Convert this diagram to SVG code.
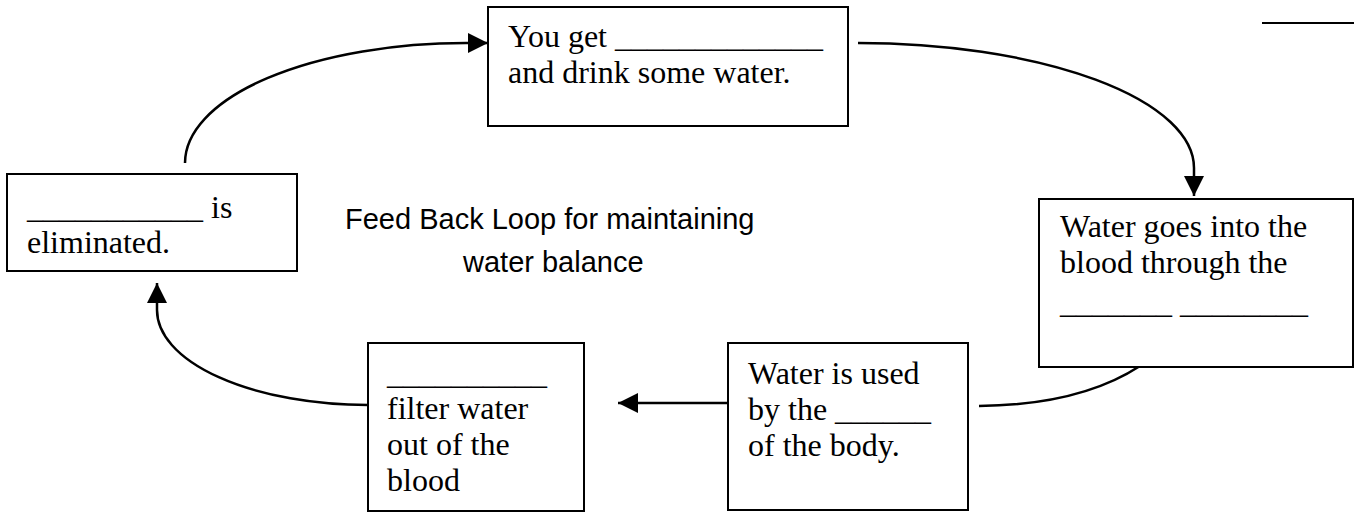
<svg xmlns="http://www.w3.org/2000/svg" width="1354" height="512" viewBox="0 0 1354 512">
<style>
.box{fill:#fff;stroke:#000;stroke-width:2}
.t{font-family:"Liberation Serif","Times New Roman",serif;font-size:32px;fill:#000}
.title{font-family:"Liberation Sans",Arial,sans-serif;font-size:29px;fill:#000}
.conn{fill:none;stroke:#000;stroke-width:2.5}
</style>
<defs>
<marker id="ah" viewBox="0 0 10 10" refX="10" refY="5" markerUnits="userSpaceOnUse" markerWidth="26" markerHeight="20" orient="auto">
<path d="M0,0 L10,5 L0,10 z" fill="#000"/>
</marker>
</defs>
<rect width="1354" height="512" fill="#fff"/>
<g id="connectors">
<path class="conn" d="M185,163 A281,120 0 0 1 466,43 L488,43" marker-end="url(#ah)"/>
<path class="conn" d="M858,43 A336,125 0 0 1 1194,168 L1194,196" marker-end="url(#ah)"/>
<path class="conn" d="M979,406 Q1080,405 1140,366"/>
<path class="conn" d="M728,403 L618,403" marker-end="url(#ah)"/>
<path class="conn" d="M368,405 A211,95 0 0 1 157,310 L157,283" marker-end="url(#ah)"/>
</g>
<g id="corner">
<line x1="1262" y1="23" x2="1354" y2="23" stroke="#000" stroke-width="2"/>
</g>
<g id="node-thirst">
<rect class="box" x="488" y="7" width="360" height="119"/>
<text class="t" x="508" y="47">You get _____________</text>
<text class="t" x="508" y="83">and drink some water.</text>
</g>
<g id="node-blood">
<rect class="box" x="1039" y="199" width="314" height="168"/>
<text class="t" x="1060" y="237">Water goes into the</text>
<text class="t" x="1060" y="273">blood through the</text>
<text class="t" x="1060" y="313">_______ ________</text>
</g>
<g id="node-cells">
<rect class="box" x="728" y="343" width="240" height="167"/>
<text class="t" x="748" y="384">Water is used</text>
<text class="t" x="748" y="420">by the ______</text>
<text class="t" x="748" y="456">of the body.</text>
</g>
<g id="node-kidneys">
<rect class="box" x="368" y="343" width="216" height="168"/>
<text class="t" x="387" y="384">__________</text>
<text class="t" x="387" y="419">filter water</text>
<text class="t" x="387" y="455">out of the</text>
<text class="t" x="387" y="491">blood</text>
</g>
<g id="node-eliminated">
<rect class="box" x="7" y="174" width="290" height="97"/>
<text class="t" x="27" y="218">___________ is</text>
<text class="t" x="27" y="253">eliminated.</text>
</g>
<g id="title">
<text class="title" x="345" y="229">Feed Back Loop for maintaining</text>
<text class="title" x="463" y="272">water balance</text>
</g>
</svg>
